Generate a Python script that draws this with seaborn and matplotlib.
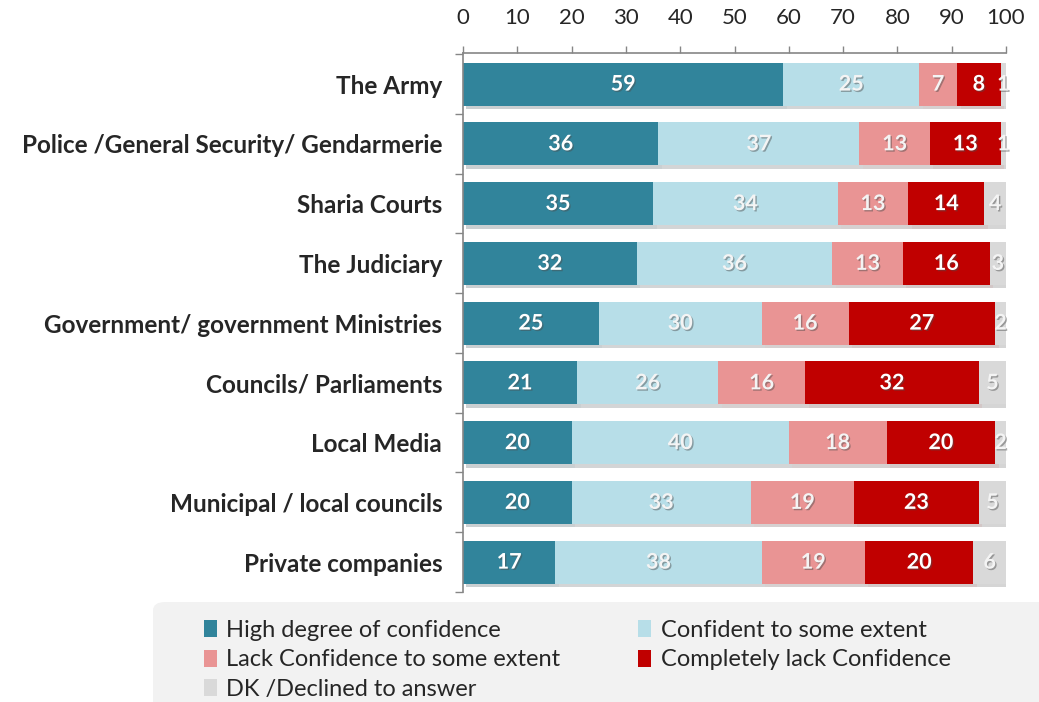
import matplotlib
matplotlib.use("Agg")
import matplotlib.pyplot as plt
import matplotlib.patheffects as pe
from matplotlib.patches import FancyBboxPatch, Patch
import numpy as np
import pandas as pd
import seaborn as sns

# Survey results (% of respondents)
institutions = [
    "The Army",
    "Police /General Security/ Gendarmerie",
    "Sharia Courts",
    "The Judiciary",
    "Government/ government Ministries",
    "Councils/ Parliaments",
    "Local Media",
    "Municipal / local councils",
    "Private companies",
]
high_conf = [59, 36, 35, 32, 25, 21, 20, 20, 17]
some_conf = [25, 37, 34, 36, 30, 26, 40, 33, 38]
lack_some = [7, 13, 13, 13, 16, 16, 18, 19, 19]
lack_full = [8, 13, 14, 16, 27, 32, 20, 23, 20]
dk_declined = [1, 1, 4, 3, 2, 5, 2, 5, 6]

series_names = [
    "High degree of confidence",
    "Confident to some extent",
    "Lack Confidence to some extent",
    "Completely lack Confidence",
    "DK /Declined to answer",
]
series_values = [high_conf, some_conf, lack_some, lack_full, dk_declined]
series_colors = ["#31849B", "#B7DEE8", "#E99494", "#C00000", "#D9D9D9"]
label_colors = ["white", "#F4F4F4", "#F4F4F4", "white", "#F4F4F4"]

sns.set_style("white")
plt.rcParams["font.family"] = ["Lato", "DejaVu Sans"]

fig = plt.figure(figsize=(10.39, 7.02), dpi=100)
ax = fig.add_axes([463 / 1039, 1 - 592 / 702, 543 / 1039, (592 - 53) / 702])

shadow = [pe.SimplePatchShadow(offset=(2.5, -2.5), alpha=0.22), pe.Normal()]
text_fx = [pe.withSimplePatchShadow(offset=(1, -1), alpha=0.45)]

left = np.zeros(len(institutions))
for name, vals, col, tcol in zip(series_names, series_values, series_colors, label_colors):
    df = pd.DataFrame({"institution": institutions, "value": vals})
    sns.barplot(data=df, y="institution", x="value", order=institutions,
                color=col, width=0.72, left=left, ax=ax, saturation=1,
                linewidth=0, path_effects=shadow)
    cont = ax.containers[-1]
    ax.bar_label(cont, labels=[str(v) for v in vals], label_type="center",
                 color=tcol, fontsize=15.5, fontweight="bold", path_effects=text_fx)
    left = left + np.array(vals)

ax.set_xlim(0, 100)
ax.set_ylim(len(institutions) - 0.5, -0.52)
ax.set_xlabel("")
ax.set_ylabel("")
ax.xaxis.tick_top()
ax.set_xticks(range(0, 101, 10))
ax.tick_params(axis="x", which="major", direction="out", length=5, width=1,
               color="#868686", labelsize=16, pad=13, top=True, bottom=False)
ax.tick_params(axis="y", which="major", length=0, pad=15)
ax.set_yticks(np.arange(-0.5, len(institutions), 1.0), minor=True)
ax.tick_params(axis="y", which="minor", direction="out", length=6, width=1,
               color="#868686", left=True)
for lab in ax.get_yticklabels():
    lab.set_fontweight("bold")
    lab.set_fontsize(17.5)
for side in ["right", "bottom"]:
    ax.spines[side].set_visible(False)
for side in ["top", "left"]:
    ax.spines[side].set_color("#868686")
    ax.spines[side].set_linewidth(1.2)

# Legend panel
panel = FancyBboxPatch((153 / 1039, -20 / 702), 920 / 1039, 120 / 702,
                       boxstyle="round,pad=0,rounding_size=0.012",
                       transform=fig.transFigure, facecolor="#F2F2F2",
                       edgecolor="none", zorder=0)
fig.patches.append(panel)

handles = [Patch(facecolor=c, edgecolor="none") for c in series_colors]
order = [0, 2, 4, 1, 3]
fig.legend([handles[i] for i in order], [series_names[i] for i in order],
           ncol=2, loc="upper left", bbox_to_anchor=(204 / 1039, 1 - 620 / 702),
           frameon=False, fontsize=17, handlelength=0.55, handleheight=0.75,
           handletextpad=0.4, labelspacing=0.36, columnspacing=3.3,
           borderaxespad=0, borderpad=0)

fig.savefig("out.png", dpi=100)
